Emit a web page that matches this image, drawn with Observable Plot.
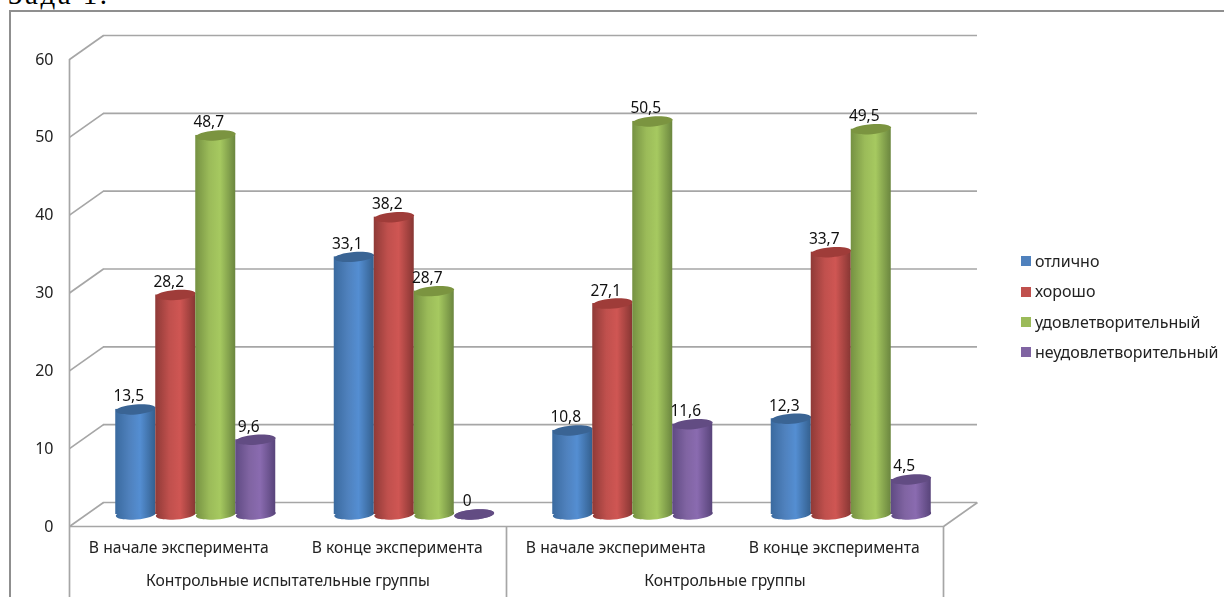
<!DOCTYPE html>
<html><head><meta charset="utf-8">
<script src="https://cdn.jsdelivr.net/npm/d3@7"></script>
<script src="https://cdn.jsdelivr.net/npm/@observablehq/plot@0.6"></script>
<style>
html,body{margin:0;padding:0;background:#fff;width:1224px;height:597px;overflow:hidden}
#page{position:relative;width:1224px;height:597px;overflow:hidden}
#head{position:absolute;left:8px;top:-21px;font:29px/30px "Liberation Serif",serif;letter-spacing:2.5px;color:#000;white-space:nowrap}
#frame{position:absolute;left:9px;top:10px;width:1300px;height:700px;border-left:2px solid #8f8f8f;border-top:2px solid #8f8f8f;box-sizing:border-box}
#chart{position:absolute;left:0;top:0;filter:blur(.35px)}
#legend{position:absolute;left:1021px;top:246px;font:16px/30.4px "Noto Sans",sans-serif;color:#222;filter:blur(.35px)}
#legend div{display:flex;align-items:center;white-space:nowrap}
#legend i{display:block;width:10px;height:10px;margin-right:4px}
</style></head><body>
<div id="page">
<div id="head">Зада 1.</div>
<div id="frame"></div>
<div id="chart"></div>
<div id="legend"></div>
</div>
<script>
const groups = ["Контрольные испытательные группы", "Контрольные группы"];
const categories = ["В начале эксперимента", "В конце эксперимента", "В начале эксперимента", "В конце эксперимента"];
const seriesNames = ["отлично", "хорошо", "удовлетворительный", "неудовлетворительный"];
const excellent = [13.5, 33.1, 10.8, 12.3];
const good = [28.2, 38.2, 27.1, 33.7];
const satisfactory = [48.7, 28.7, 50.5, 49.5];
const unsatisfactory = [9.6, 0, 11.6, 4.5];
const ticks = [0, 10, 20, 30, 40, 50, 60];
const seriesValues = [excellent, good, satisfactory, unsatisfactory];

const colors = ["#4f81bd", "#c0504d", "#9bbb59", "#8064a2"];
const lit = ["#548ed2", "#cf5653", "#a6c960", "#8a6bb0"];
const darkL = ["#3a6a9f", "#8f3a37", "#759142", "#5f4a83"];
const darkR = ["#34608f", "#873633", "#6b863f", "#58447a"];
const rim = ["#3a6494", "#9f3c39", "#7b9440", "#624c83"];

// pseudo-3D geometry in data units
const depthX = 34 / 218.5, depthY = 24 / 7.78;
const barW = 40 / 218.5;
const grey = "#a6a6a6";
const rx = 20;

const ellipse = (ratio, tilt) => ({
  draw(ctx, size) {
    const a = Math.sqrt(size / Math.PI), b = a * ratio;
    const c = Math.cos(tilt), s = Math.sin(tilt), k = 0.5523;
    const P = (u, v) => [u * c - v * s, u * s + v * c];
    ctx.moveTo(...P(a, 0));
    ctx.bezierCurveTo(...P(a, k * b), ...P(k * a, b), ...P(0, b));
    ctx.bezierCurveTo(...P(-k * a, b), ...P(-a, k * b), ...P(-a, 0));
    ctx.bezierCurveTo(...P(-a, -k * b), ...P(-k * a, -b), ...P(0, -b));
    ctx.bezierCurveTo(...P(k * a, -b), ...P(a, -k * b), ...P(a, 0));
    ctx.closePath();
  }
});
const disc = ellipse(0.25, -0.08);

const bars = seriesValues.map((vals, s) => vals.map((v, c) => ({
  s, v,
  x: c + 0.5 + depthX / 2 + (s - 1.5) * barW,
  base: depthY / 2,
  top: v + depthY / 2,
  label: String(v).replace(".", ",")
})));

const defs = () => {
  const d = d3.create("svg:defs");
  colors.forEach((_, i) => {
    const g = d.append("linearGradient").attr("id", "cyl" + i);
    [[0, darkL[i]], [0.35, colors[i]], [0.62, lit[i]], [1, darkR[i]]].forEach(([o, col]) =>
      g.append("stop").attr("offset", o).attr("stop-color", col));
  });
  return d.node();
};

const cats = categories.map((name, i) => ({name, x: i + 0.5}));
const grps = groups.map((name, i) => ({name, x: 2 * i + 1}));
const sw = 1.7;

const marks = [
  defs,
  Plot.ruleY(ticks, {x1: depthX, x2: 4 + depthX, y: d => d + depthY, stroke: grey, strokeWidth: sw}),
  Plot.link(ticks, {x1: 0, y1: d => d, x2: depthX, y2: d => d + depthY, stroke: grey, strokeWidth: sw}),
  Plot.link([0], {x1: 4, y1: 0, x2: 4 + depthX, y2: depthY, stroke: grey, strokeWidth: sw}),
  Plot.ruleX([0], {y1: 0, y2: 60, stroke: grey, strokeWidth: sw}),
  Plot.ruleY([0], {x1: 0, x2: 4, stroke: grey, strokeWidth: sw}),
  Plot.ruleX([0, 2, 4], {y1: 0, y2: -9.3, stroke: grey, strokeWidth: sw}),
  Plot.axisY({ticks, tickSize: 0, tickPadding: 16, label: null, fontSize: 16, fill: "#222"})
];
bars.forEach((rows, s) => {
  marks.push(
    Plot.dot(rows, {x: "x", y: "base", r: rx, symbol: disc, fill: `url(#cyl${s})`, stroke: "none"}),
    Plot.rect(rows, {x1: d => d.x - barW / 2, x2: d => d.x + barW / 2, y1: "base", y2: "top", fill: `url(#cyl${s})`}),
    Plot.dot(rows, {x: "x", y: "top", r: rx, symbol: disc, fill: rim[s], stroke: "none"})
  );
});
marks.push(
  ...bars.map(rows => Plot.text(rows, {x: "x", y: "top", text: "label", dx: -7, dy: -13, fontSize: 15.5, fill: "#111"})),
  Plot.text(cats, {x: "x", y: () => -2.8, text: "name", fontSize: 15.7, fill: "#222"}),
  Plot.text(grps, {x: "x", y: () => -7, text: "name", fontSize: 15.7, fill: "#222"})
);

const chart = Plot.plot({
  width: 1224, height: 597,
  marginLeft: 69, marginRight: 281, marginTop: 59, marginBottom: 71,
  x: {domain: [0, 4], axis: null},
  y: {domain: [0, 60]},
  style: {fontFamily: "'Noto Sans',sans-serif", background: "transparent", overflow: "visible"},
  marks
});
document.getElementById("chart").append(chart);

const legend = d3.select("#legend");
seriesNames.forEach((n, i) => {
  const r = legend.append("div");
  r.append("i").style("background", colors[i]);
  r.append("span").text(n);
});
</script>
</body></html>
